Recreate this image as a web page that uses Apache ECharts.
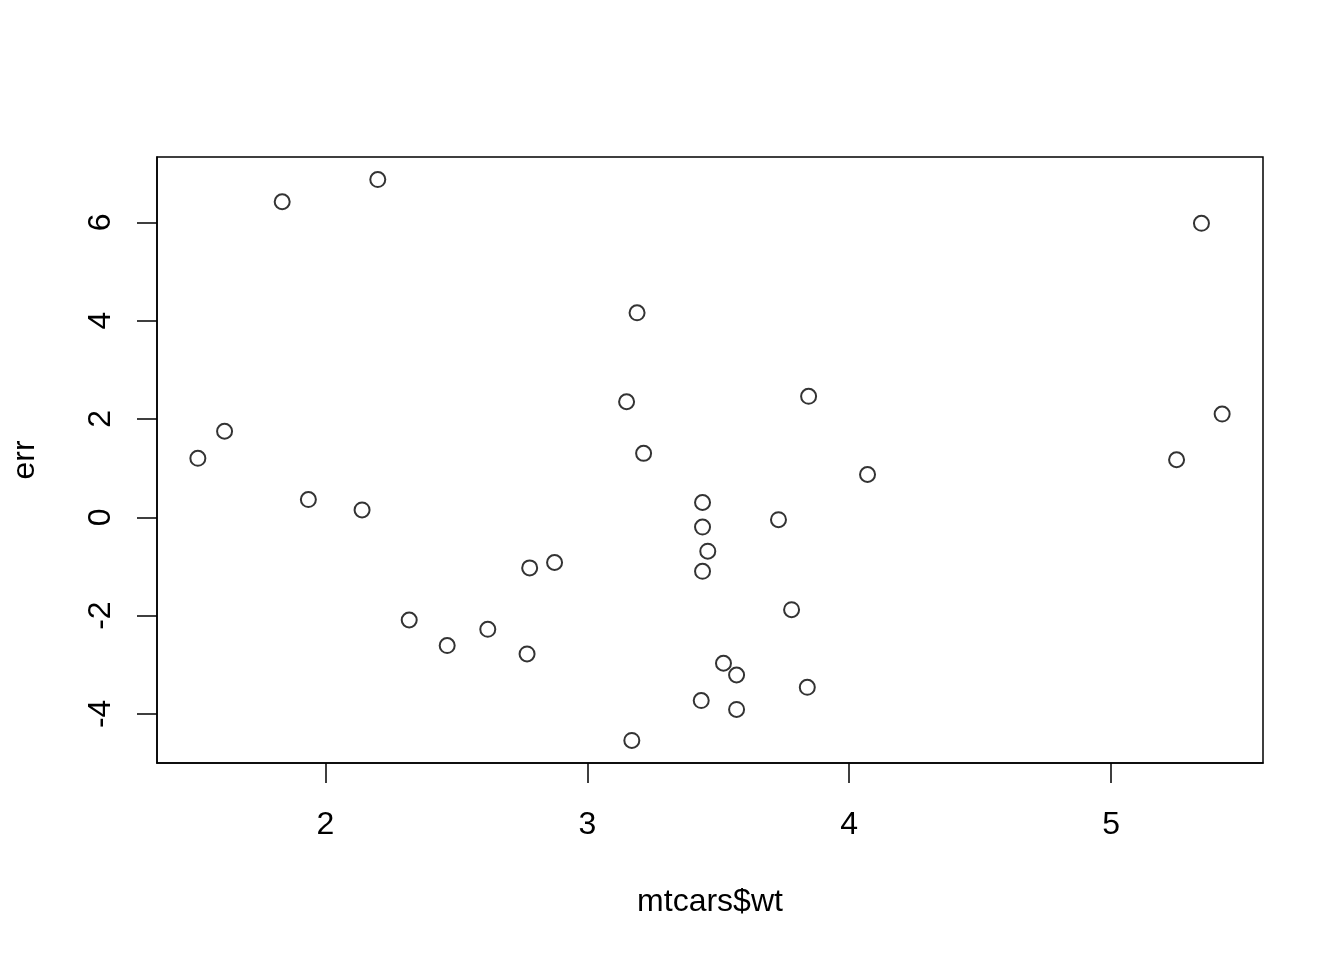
<!DOCTYPE html>
<html>
<head>
<meta charset="utf-8">
<script src="https://cdn.jsdelivr.net/npm/echarts@6/dist/echarts.min.js"></script>
<style>html,body{margin:0;padding:0;background:#fff}#c{width:1344px;height:960px}</style>
</head>
<body>
<div id="c"></div>
<script>
const wt = [2.620, 2.875, 2.320, 3.215, 3.440, 3.460, 3.570, 3.190, 3.150, 3.440, 3.440, 4.070, 3.730, 3.780, 5.250, 5.424, 5.345, 2.200, 1.615, 1.835, 2.465, 3.520, 3.435, 3.840, 3.845, 1.935, 2.140, 1.513, 3.170, 2.770, 3.570, 2.780];
const err = [-2.28, -0.92, -2.09, 1.30, -0.20, -0.69, -3.91, 4.16, 2.35, 0.30, -1.10, 0.87, -0.05, -1.88, 1.17, 2.10, 5.98, 6.87, 1.75, 6.42, -2.61, -2.97, -3.73, -3.46, 2.46, 0.36, 0.15, 1.20, -4.54, -2.78, -3.21, -1.03];
const xTicks = [2, 3, 4, 5];
const yTicks = [-4, -2, 0, 2, 4, 6];
const xRange = [1.357, 5.580];
const yRange = [-5.00, 7.33];

const font = 'Liberation Sans, Arial, sans-serif';
const chart = echarts.init(document.getElementById('c'), null, {renderer: 'canvas'});
chart.setOption({
  backgroundColor: '#fff',
  animation: false,
  grid: {left: 157, right: 81, top: 157, bottom: 197, show: true, borderColor: '#000', borderWidth: 1.5, backgroundColor: 'transparent'},
  xAxis: {
    type: 'value', min: xRange[0], max: xRange[1],
    name: 'mtcars$wt', nameLocation: 'middle', nameGap: 123,
    nameTextStyle: {color: '#000', fontSize: 32, fontFamily: font},
    axisLine: {show: true, onZero: false, lineStyle: {color: '#000', width: 1.5}},
    axisTick: {show: true, inside: false, length: 20, lineStyle: {color: '#000', width: 1.5}, customValues: xTicks},
    axisLabel: {show: true, margin: 46, color: '#000', fontSize: 32, fontFamily: font, customValues: xTicks},
    splitLine: {show: false}
  },
  yAxis: {
    type: 'value', min: yRange[0], max: yRange[1],
    name: 'err', nameLocation: 'middle', nameGap: 116,
    nameTextStyle: {color: '#000', fontSize: 32, fontFamily: font},
    axisLine: {show: true, onZero: false, lineStyle: {color: '#000', width: 1.5}},
    axisTick: {show: true, inside: false, length: 20, lineStyle: {color: '#000', width: 1.5}, customValues: yTicks},
    axisLabel: {show: true, margin: 40, rotate: 90, color: '#000', fontSize: 32, fontFamily: font, customValues: yTicks},
    splitLine: {show: false}
  },
  series: [{
    type: 'scatter',
    data: wt.map((w, i) => [w, err[i]]),
    symbol: 'circle', symbolSize: 15,
    itemStyle: {color: 'rgba(0,0,0,0)', borderColor: '#000', borderWidth: 2},
    emphasis: {disabled: true}
  }]
});
</script>
</body>
</html>
